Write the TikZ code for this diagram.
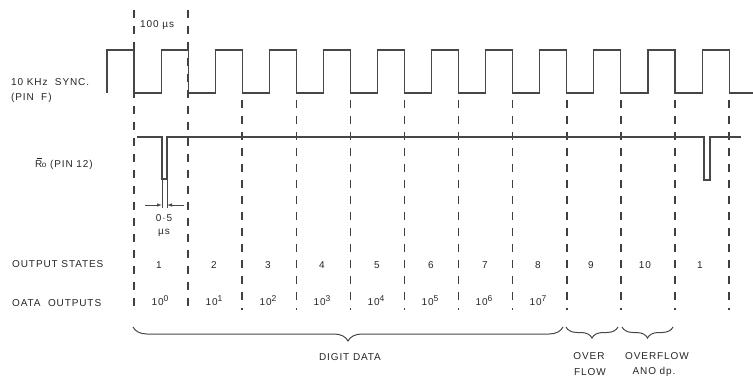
\documentclass[tikz,border=0pt]{standalone}
\usepackage{fontspec}
\setmainfont[LetterSpace=9]{Liberation Sans}
\usetikzlibrary{decorations.pathreplacing,arrows.meta}
\begin{document}
\begin{tikzpicture}[x=1pt,y=-1pt,
  font=\fontsize{10}{12}\selectfont,
  wave/.style={line width=1.1pt, draw=black!72, line join=miter},
  thin/.style={line width=0.8pt, draw=black!72},
  guide/.style={line width=1.5pt, draw=black!75, dash pattern=on 8pt off 8pt},
  lbl/.style={anchor=west, inner sep=0pt, text=black!85},
  num/.style={inner sep=0pt, text=black!85},
  brc/.style={decorate, decoration={brace,mirror,amplitude=#1}, line width=1pt, draw=black!72},
  dim/.style={thin, -{Latex[length=5pt,width=3.5pt]}}]
\useasboundingbox (0,0) rectangle (753,380);

% guide lines at the falling edges
\foreach \k in {0,...,11}{
  \pgfmathsetmacro\xx{134+54.1*\k}
  \pgfmathsetmacro\yy{\k<2 ? 10 : 100}
  \coordinate (gt\k) at (\xx,\yy);
  \coordinate (gb\k) at (\xx,310);
  \draw[guide] (gt\k) -- (gb\k);
}

% 10 kHz sync waveform
\draw[wave] (107,93) -- (107,50)
  \foreach \k in {0,...,10}{
    -- ({134+54.1*\k},50) -- ({134+54.1*\k},93)
    -- ({161.05+54.1*\k},93) -- ({161.05+54.1*\k},50)}
  -- (729.1,50) -- (729.1,93) -- (753,93);

% Ro waveform
\coordinate (p1a) at (162,179);
\coordinate (p1b) at (167,179);
\draw[wave] (137,137) -- (162,137) -- (p1a) -- (p1b) -- (167,137)
  -- (704,137) -- (704,180) -- (710,180) -- (710,137) -- (741,137);

% 0.5 us dimension
\coordinate (e1) at (162,208);
\coordinate (e2) at (167,208);
\coordinate (a1) at (145,205);
\coordinate (a2) at (184,205);
\draw[thin] (p1a) -- (e1);
\draw[thin] (p1b) -- (e2);
\draw[dim] (a1) -- (162,205);
\draw[dim] (a2) -- (167,205);
\node[num] (dimt) at (164,218) {0·5};
\node[num] (dimu) at (164,233) {µs};

% labels
\node[num, anchor=west] (per) at (140,25) {100 µs};
\node[lbl] (sync) at (11,82) {10 KHz\ \ SYNC.};
\node[lbl] (pinf) at (11,98) {(PIN\ \ F)};
\node[lbl] (ro) at (35,164) {R\llap{\raisebox{1.65ex}{\rule{0.55em}{0.5pt}}\kern0.02em}\kern-0.05em{\fontsize{8}{9}\selectfont o}\ (PIN 12)};
\node[lbl] (os) at (12,264) {OUTPUT STATES};
\node[lbl] (od) at (12,303) {OATA\ \ OUTPUTS};

% state numbers
\foreach \n/\x in {1/159,2/214,3/268,4/322,5/377,6/431,7/485,8/538,9/591,10/645,1/700}{
  \node[num] at (\x,265) {\n};
}
% data outputs
\foreach \n/\x in {0/160,1/214,2/268,3/322,4/376,5/430,6/484,7/538}{
  \node[num] at (\x,301) {10\raisebox{0.75ex}{\fontsize{8.5}{9}\selectfont\n}};
}

% braces
\draw[brc=14pt] (133,327) -- (563,327);
\draw[brc=11pt] (566,327) -- (618,327);
\draw[brc=11pt] (622,327) -- (673,327);
\node[num] (dd) at (350,357) {DIGIT\ DATA};
\node[num] (ov1) at (589,356) {OVER};
\node[num] (ov2) at (590,372) {FLOW};
\node[num] (of1) at (657,356) {OVERFLOW};
\node[num] (of2) at (654,372) {ANO dp.};
\end{tikzpicture}
\end{document}
